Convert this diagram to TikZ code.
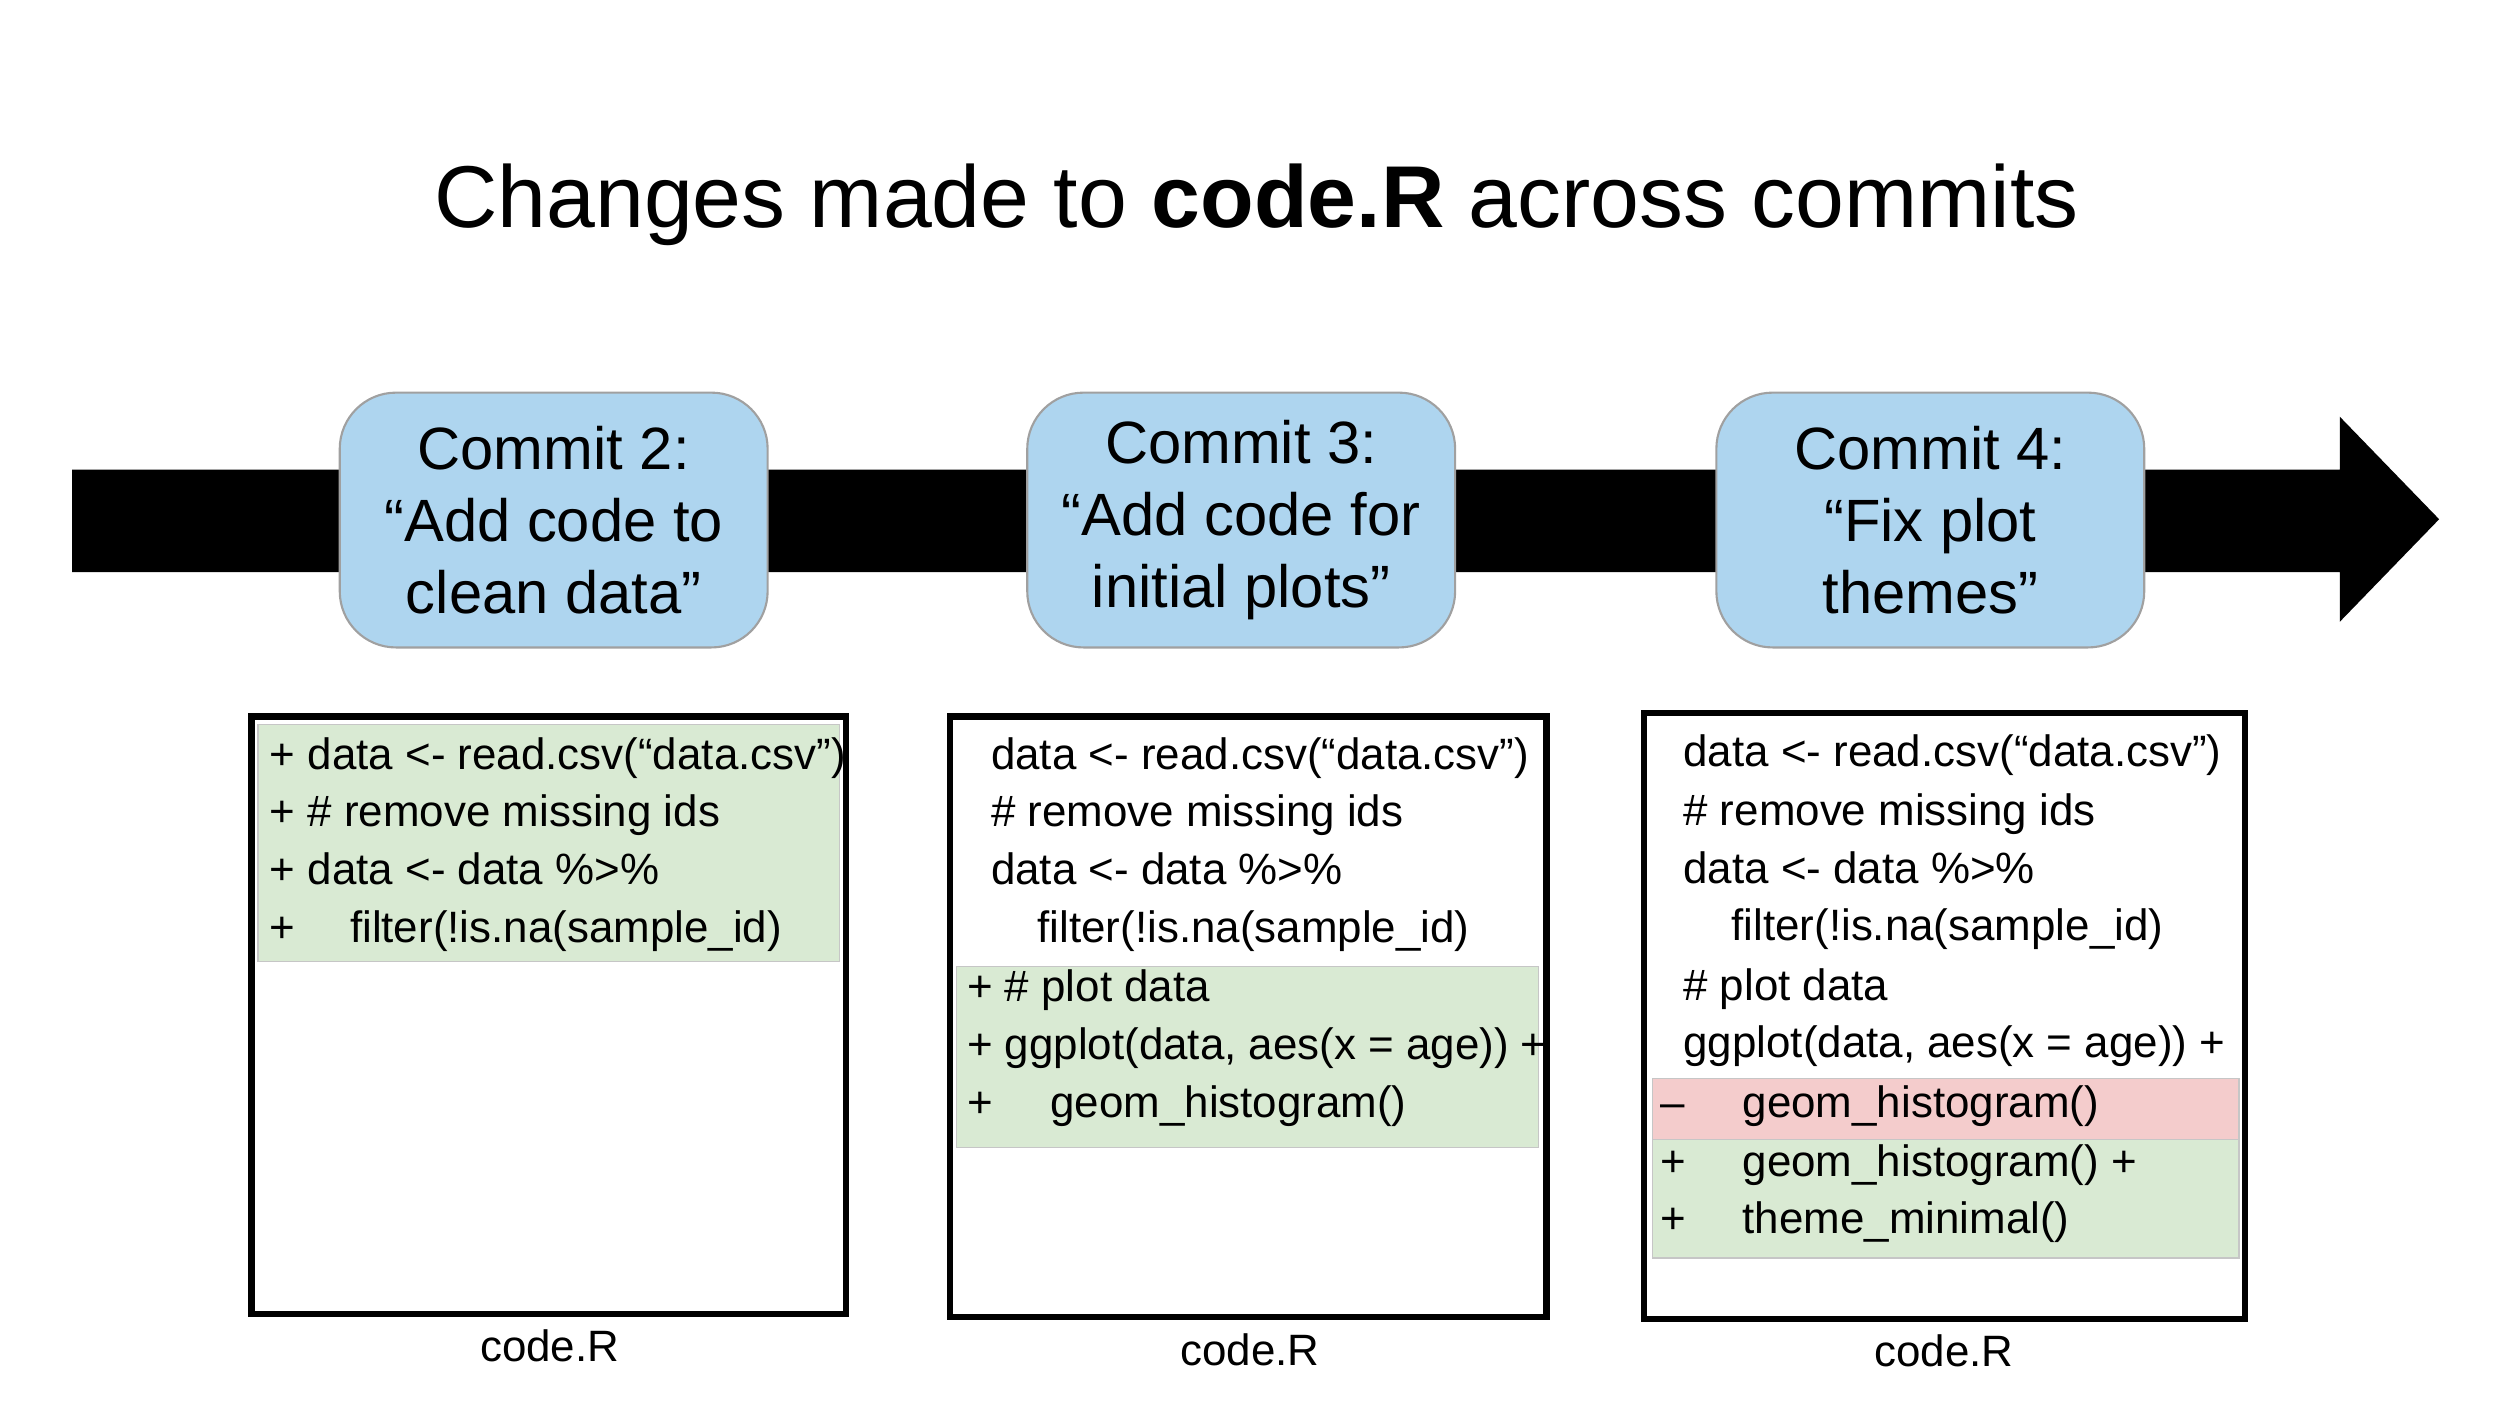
\documentclass[tikz,border=0pt]{standalone}
\usepackage{fontspec}
\setmainfont{Liberation Sans}
\usetikzlibrary{positioning, calc}
\definecolor{gsBlue}{RGB}{174,213,239}
\definecolor{gsGreen}{RGB}{217,234,211}
\definecolor{gsRed}{RGB}{244,204,204}
\definecolor{gsEdge}{RGB}{160,160,160}
\tikzset{
  commit/.style={draw=gsEdge, line width=0.6pt, rounded corners=16pt, fill=gsBlue, minimum width=267\pxu, minimum height=159\pxu, align=center, font=\fontsize{17}{20.5}\selectfont, inner sep=0pt},
  codebox/.style={draw=black, line width=1.8pt},
  added/.style={fill=gsGreen, draw=gsEdge!60, line width=0.4pt},
  removed/.style={fill=gsRed, draw=gsEdge!60, line width=0.4pt},
  line/.style={anchor=base west, inner sep=0pt, font=\fontsize{12.5}{15}\selectfont},
  caption/.style={font=\fontsize{12.5}{15}\selectfont}
}
\newlength{\pxu}
\setlength{\pxu}{0.01603cm}
\begin{document}
\begin{tikzpicture}[x=0.01603cm, y=-0.01603cm]
  \useasboundingbox (0,0) rectangle (1560,878);
  \node[font=\fontsize{25}{30}\selectfont] (title) at (784,128) {Changes made to \textbf{code.R} across commits};

  % timeline arrow
  \fill[black] (45,293) -- (1460,293) -- (1460,260) -- (1522,324) -- (1460,388) -- (1460,357) -- (45,357) -- cycle;

  % commits
  \node[commit] (c2) at (345.5,324.5) {Commit 2:\\“Add code to\\clean data”};
  \node[commit] (c3) at (774.5,324.5) {Commit 3:\\“Add code for\\initial plots”};
  \node[commit] (c4) at (1204.5,324.5) {Commit 4:\\“Fix plot\\themes”};

  % code boxes
  \fill[added] (161,452) rectangle (524,600);
  \draw[codebox] (157,447) rectangle (528,820);
  \node[line] (a1) at (168,480) {+ data <- read.csv(“data.csv”)};
  \node[line] (a2) at (168,516) {+ \# remove missing ids};
  \node[line] (a3) at (168,552) {+ data <- data \%>\%};
  \node[line] (a4) at (168,588) {+};
  \node[line] (a5) at (218,588) {filter(!is.na(sample\_id)};
  \node[caption] (f2) at (343,840) {code.R};

  \fill[added] (597,603) rectangle (960,716);
  \draw[codebox] (593,447) rectangle (965,822);
  \node[line] (b1) at (618,480) {data <- read.csv(“data.csv”)};
  \node[line] (b2) at (618,516) {\# remove missing ids};
  \node[line] (b3) at (618,552) {data <- data \%>\%};
  \node[line] (b4) at (647,588) {filter(!is.na(sample\_id)};
  \node[line] (b5) at (603,625) {+ \# plot data};
  \node[line] (b6) at (603,661) {+ ggplot(data, aes(x = age)) +};
  \node[line] (b7) at (603,697) {+};
  \node[line] (b8) at (655,697) {geom\_histogram()};
  \node[caption] (f3) at (780,842) {code.R};

  \fill[removed] (1031,673) rectangle (1397,711);
  \fill[added] (1031,711) rectangle (1397,785);
  \draw[codebox] (1026,445) rectangle (1401,823);
  \node[line] (d1) at (1050,478) {data <- read.csv(“data.csv”)};
  \node[line] (d2) at (1050,515) {\# remove missing ids};
  \node[line] (d3) at (1050,551) {data <- data \%>\%};
  \node[line] (d4) at (1080,587) {filter(!is.na(sample\_id)};
  \node[line] (d5) at (1050,624) {\# plot data};
  \node[line] (d6) at (1050,660) {ggplot(data, aes(x = age)) +};
  \node[line] (d7) at (1036,697) {–};
  \node[line] (d8) at (1087,697) {geom\_histogram()};
  \node[line] (d9) at (1036,734) {+};
  \node[line] (d10) at (1087,734) {geom\_histogram() +};
  \node[line] (d11) at (1036,770) {+};
  \node[line] (d12) at (1087,770) {theme\_minimal()};
  \node[caption] (f4) at (1213,843) {code.R};
\end{tikzpicture}
\end{document}
